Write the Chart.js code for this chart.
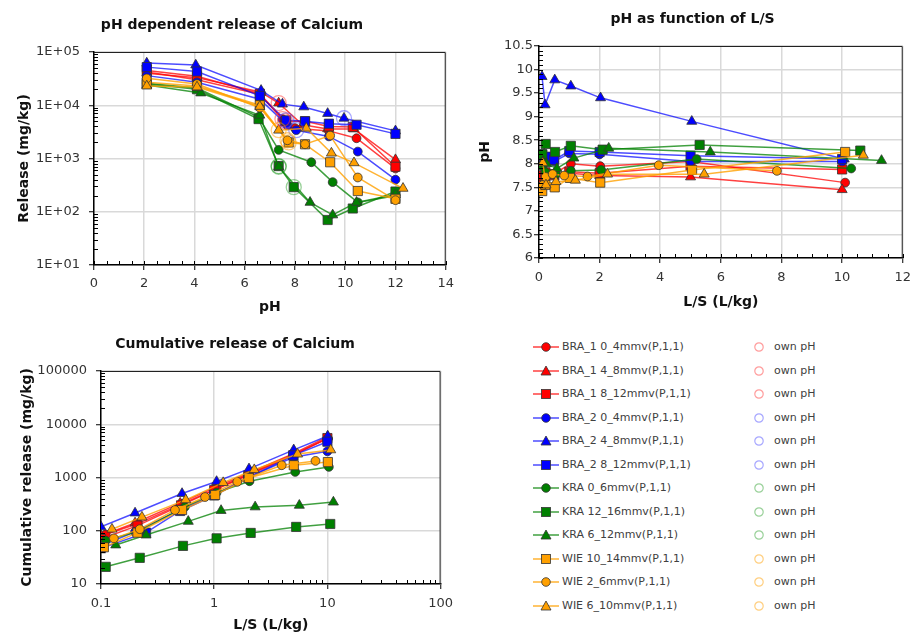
<!DOCTYPE html>
<html>
<head>
<meta charset="utf-8">
<script src="https://cdn.jsdelivr.net/npm/chart.js@4.4.1/dist/chart.umd.min.js"></script>
<style>
  body { margin: 0; background: #fff; width: 918px; height: 637px; position: relative; overflow: hidden; font-family: "DejaVu Sans", sans-serif; }
  canvas { position: absolute; }
  .lg-row { position: absolute; height: 14px; line-height: 14px; font-size: 11px; color: #404040; white-space: nowrap; }
  .lg-row svg { position: absolute; top: 0; }
</style>
</head>
<body>
<canvas id="phdep" width="460" height="320" style="left:0;top:0"></canvas>
<canvas id="phls" width="458" height="320" style="left:460px;top:0"></canvas>
<canvas id="cumul" width="460" height="317" style="left:0;top:320px"></canvas>
<div id="legend"></div>
<script>
/* Calcium leaching: pH dependence, pH vs L/S, cumulative release */

const seriesNames = [
  'BRA_1 0_4mmv(P,1,1)', 'BRA_1 4_8mmv(P,1,1)', 'BRA_1 8_12mmv(P,1,1)',
  'BRA_2 0_4mmv(P,1,1)', 'BRA_2 4_8mmv(P,1,1)', 'BRA_2 8_12mmv(P,1,1)',
  'KRA 0_6mmv(P,1,1)', 'KRA 12_16mmv(P,1,1)', 'KRA 6_12mmv(P,1,1)',
  'WIE 10_14mmv(P,1,1)', 'WIE 2_6mmv(P,1,1)', 'WIE 6_10mmv(P,1,1)'
];

// pH dependent test: pH and release (mg/kg)
const phdepX = [
  [2.1, 4.1, 6.6, 7.5, 8.0, 9.35, 10.45, 12.0],
  [2.1, 4.1, 6.65, 7.35, 8.3, 9.3, 10.35, 12.0],
  [2.1, 4.1, 6.6, 7.6, 8.4, 9.35, 10.3, 12.0],
  [2.1, 4.1, 6.6, 7.7, 8.05, 9.35, 10.5, 12.0],
  [2.1, 4.05, 6.65, 7.5, 8.35, 9.3, 9.95, 12.0],
  [2.1, 4.1, 6.6, 7.65, 8.4, 9.35, 10.45, 12.0],
  [2.1, 4.1, 6.55, 7.35, 8.65, 9.5, 10.5, 12.0],
  [2.1, 4.1, 6.55, 7.35, 7.95, 9.3, 10.3, 12.0],
  [2.1, 4.25, 6.6, 7.35, 8.6, 9.5, 10.45, 12.0],
  [2.1, 4.1, 6.6, 7.75, 8.4, 9.4, 10.5, 12.0],
  [2.1, 4.1, 6.6, 7.7, 8.4, 9.4, 10.5, 12.0],
  [2.1, 4.1, 6.6, 7.35, 8.45, 9.45, 10.35, 12.3]
];
const phdepY = [
  [42000, 30000, 16000, 5500, 3700, 3300, 2400, 650],
  [40000, 33000, 17500, 11000, 4300, 3600, 3600, 950],
  [45000, 35000, 16500, 5000, 5000, 4000, 3900, 700],
  [36000, 27000, 13000, 4200, 3400, 2600, 1350, 400],
  [62000, 57000, 19000, 10500, 9300, 7000, 5700, 3300],
  [52000, 43000, 15000, 5200, 5000, 4500, 4300, 2900],
  [26000, 21000, 6000, 1450, 850, 360, 150, 200],
  [25000, 20000, 5500, 720, 290, 70, 115, 240],
  [24000, 17000, 6500, 700, 150, 87, 150, 210],
  [27000, 23000, 10000, 2000, 1850, 850, 245, 175],
  [32000, 25000, 9000, 2200, 1850, 2700, 440, 165],
  [23000, 22000, 9500, 3400, 3700, 1260, 830, 275]
];
// own (natural) pH of each material
const ownX = [7.5, 7.35, 7.6, 8.05, 9.95, 7.65, 7.35, 7.95, 7.35, 7.75, 7.7, 7.35];
const ownY = [5500, 11000, 5000, 3400, 5700, 5200, 720, 290, 700, 2000, 2200, 3400];

// percolation test: cumulative L/S, eluate pH, cumulative release (mg/kg)
const lsX = [
  [0.11, 0.21, 0.52, 1.05, 2.02, 5.0, 10.1],
  [0.1, 0.2, 0.5, 1.0, 2.0, 5.0, 10.0],
  [0.1, 0.21, 0.51, 1.0, 2.0, 5.0, 10.0],
  [0.1, 0.2, 0.5, 1.0, 2.0, 5.0, 10.0],
  [0.1, 0.2, 0.52, 1.05, 2.03, 5.04, 10.07],
  [0.1, 0.25, 0.5, 1.0, 2.0, 5.0, 10.0],
  [0.11, 0.22, 0.55, 1.05, 2.05, 5.2, 10.3],
  [0.11, 0.22, 0.53, 1.05, 2.1, 5.3, 10.6],
  [0.135, 0.25, 0.59, 1.15, 2.3, 5.65, 11.3],
  [0.106, 0.21, 0.52, 1.02, 2.02, 5.05, 10.1],
  [0.13, 0.22, 0.45, 0.83, 1.6, 3.95, 7.85],
  [0.125, 0.23, 0.56, 1.2, 2.26, 5.45, 10.7]
];
const lsPH = [
  [7.72, 7.75, 7.8, 8.0, 7.95, 8.05, 7.6],
  [7.65, 7.7, 7.72, 7.8, 7.75, 7.72, 7.45],
  [7.75, 7.82, 7.78, 7.83, 7.8, 7.95, 7.88],
  [8.0, 8.1, 8.05, 8.22, 8.2, 8.05, 8.05],
  [9.85, 9.25, 9.78, 9.65, 9.4, 8.9, 8.1],
  [8.2, 8.15, 8.08, 8.27, 8.25, 8.17, 8.1],
  [7.95, 7.82, 7.78, 7.85, 7.87, 8.1, 7.9],
  [8.2, 8.42, 8.25, 8.38, 8.3, 8.4, 8.28],
  [8.05, 8.0, 7.9, 8.12, 8.33, 8.25, 8.07],
  [7.42, 7.55, 7.5, 7.7, 7.6, 7.87, 8.25],
  [7.55, 7.72, 7.78, 7.75, 7.73, 7.97, 7.85],
  [8.02, 7.55, 7.62, 7.65, 7.78, 7.78, 8.18]
];
const cumY = [
  [85, 135, 320, 620, 1150, 2700, 5400],
  [80, 140, 330, 640, 1200, 2800, 5800],
  [70, 125, 300, 580, 1100, 2600, 5500],
  [52, 95, 250, 470, 1000, 2400, 3100],
  [118, 215, 500, 840, 1450, 3300, 6000],
  [47, 92, 235, 460, 1000, 2600, 4700],
  [65, 100, 280, 520, 850, 1270, 1580],
  [21, 31, 52, 72, 91, 118, 134],
  [54, 83, 150, 240, 280, 300, 345],
  [49, 92, 245, 470, 980, 1700, 1950],
  [72, 107, 245, 430, 830, 1700, 2050],
  [107, 180, 380, 800, 1400, 2750, 3300]
];

// styling per material group
const groupFill = { BRA_1: '#ff0000', BRA_2: '#0000ff', KRA: '#008000', WIE: '#ffa000' };
const groupLine = { BRA_1: 'rgba(255,0,0,0.75)', BRA_2: 'rgba(0,0,255,0.7)', KRA: 'rgba(0,128,0,0.75)', WIE: 'rgba(255,160,0,0.8)' };
const groupRing = { BRA_1: 'rgba(255,60,60,0.5)', BRA_2: 'rgba(60,60,255,0.45)', KRA: 'rgba(0,140,0,0.4)', WIE: 'rgba(255,160,0,0.5)' };
const groups = seriesNames.map(n => n.split(' ')[0]);
const shapes = ['circle', 'triangle', 'rect', 'circle', 'triangle', 'rect', 'circle', 'rect', 'triangle', 'rect', 'circle', 'triangle'];
const shapeRadius = { circle: 4.4, triangle: 5.8, rect: 6.5 };

const FONT = '"DejaVu Sans", sans-serif';
const tickFont = { family: FONT, size: 13 };
const titleFont = { family: FONT, size: 14, weight: 'bold' };

function isPow10(v) {
  const l = Math.log10(v);
  return Math.abs(l - Math.round(l)) < 1e-6;
}

function seriesSets(xs, ys) {
  return seriesNames.map((name, i) => ({
    label: name,
    data: xs[i].map((x, j) => ({ x: x, y: ys[i][j] })),
    showLine: true,
    borderColor: groupLine[groups[i]],
    borderWidth: 1.5,
    pointStyle: shapes[i],
    pointRadius: shapeRadius[shapes[i]],
    pointBackgroundColor: groupFill[groups[i]],
    pointBorderColor: '#333',
    pointBorderWidth: 0.8,
    order: seriesNames.length - i + 1
  }));
}

// frame, inner minor ticks and chart heading
const panelDecor = {
  id: 'panelDecor',
  afterDraw(chart, args, opts) {
    const ctx = chart.ctx, a = chart.chartArea;
    ctx.save();
    ctx.strokeStyle = '#222';
    ctx.lineWidth = 1;
    ctx.beginPath();
    ctx.moveTo(a.left, a.top + 0.5);
    ctx.lineTo(a.right - 0.5, a.top + 0.5);
    ctx.lineTo(a.right - 0.5, a.bottom);
    ctx.stroke();

    ctx.strokeStyle = '#000';
    ['x', 'y'].forEach(id => {
      const sc = chart.scales[id];
      const vals = [];
      if (sc.type === 'logarithmic') {
        const d0 = Math.floor(Math.log10(sc.min)), d1 = Math.ceil(Math.log10(sc.max));
        for (let d = d0; d < d1; d++) {
          for (let k = 2; k <= 9; k++) vals.push(k * Math.pow(10, d));
        }
      } else {
        const step = opts.minor[id];
        const n = Math.round((sc.max - sc.min) / step);
        for (let k = 0; k <= n; k++) vals.push(sc.min + k * step);
      }
      ctx.beginPath();
      vals.forEach(v => {
        const p = Math.round(sc.getPixelForValue(v)) + 0.5;
        if (id === 'x') { ctx.moveTo(p, a.bottom); ctx.lineTo(p, a.bottom - 4); }
        else { ctx.moveTo(a.left, p); ctx.lineTo(a.left + 4, p); }
      });
      ctx.stroke();
    });

    ctx.fillStyle = '#111';
    ctx.font = 'bold 14px ' + FONT;
    ctx.textAlign = 'center';
    ctx.textBaseline = 'middle';
    ctx.fillText(opts.title, opts.tx, opts.ty);
    ctx.restore();
  }
};

function axis(opts) {
  return {
    type: opts.type,
    min: opts.min,
    max: opts.max,
    border: { color: '#000', width: 1.5 },
    grid: {
      color: '#d9d9d9',
      lineWidth: 1.5,
      tickColor: '#000',
      tickLength: 5,
      tickWidth: 1
    },
    ticks: Object.assign({
      font: tickFont,
      color: '#333',
      autoSkip: false,
      maxRotation: 0,
      padding: opts.pad
    }, opts.ticks),
    title: {
      display: true,
      text: opts.title,
      font: titleFont,
      color: '#111',
      padding: opts.titlePad
    }
  };
}

function makeChart(id, box, datasets, scales, decor) {
  const cv = document.getElementById(id);
  const W = cv.width, H = cv.height;
  scales.x.afterFit = s => { s.height = H - box.bottom; };
  scales.y.afterFit = s => { s.width = box.left; };
  return new Chart(cv, {
    type: 'scatter',
    data: { datasets: datasets },
    options: {
      responsive: false,
      animation: false,
      layout: { padding: { top: box.top, right: W - box.right, left: 0, bottom: 0 } },
      plugins: { legend: { display: false }, tooltip: { enabled: false }, panelDecor: decor },
      scales: scales
    },
    plugins: [panelDecor]
  });
}

// pH dependent release of Calcium
const ownSet = {
  label: 'own pH',
  data: ownX.map((x, i) => ({ x: x, y: ownY[i] })),
  pointStyle: 'circle',
  pointRadius: 7.5,
  pointBackgroundColor: 'rgba(0,0,0,0)',
  pointBorderColor: groups.map(g => groupRing[g]),
  pointBorderWidth: 1.3,
  showLine: false,
  order: 0
};
makeChart('phdep', { left: 94, top: 52, right: 446, bottom: 265 },
  seriesSets(phdepX, phdepY).concat([ownSet]),
  {
    x: axis({ type: 'linear', min: 0, max: 14, pad: 6, title: 'pH', titlePad: { top: 0, bottom: 4.6 },
      ticks: { stepSize: 2 } }),
    y: axis({ type: 'logarithmic', min: 10, max: 100000, pad: 9, title: 'Release (mg/kg)', titlePad: { top: 16, bottom: 0 },
      ticks: { callback: v => isPow10(v) ? '1E+0' + Math.round(Math.log10(v)) : null } })
  },
  { title: 'pH dependent release of Calcium', tx: 232, ty: 25, minor: { x: 0.5 } });

// pH as function of L/S
makeChart('phls', { left: 79, top: 46, right: 446, bottom: 258 },
  seriesSets(lsX, lsPH),
  {
    x: axis({ type: 'linear', min: 0, max: 12, pad: 7, title: 'L/S (L/kg)', titlePad: { top: 0, bottom: 9.6 },
      ticks: { stepSize: 2 } }),
    y: axis({ type: 'linear', min: 6, max: 10.5, pad: 1, title: 'pH', titlePad: { top: 16.6, bottom: 0 },
      ticks: { stepSize: 0.5, callback: v => String(Number(v.toFixed(1))) } })
  },
  { title: 'pH as function of L/S', tx: 232.5, ty: 19, minor: { x: 0.5, y: 0.1 } });

// Cumulative release of Calcium
makeChart('cumul', { left: 101, top: 51, right: 443, bottom: 264 },
  seriesSets(lsX, cumY),
  {
    x: axis({ type: 'logarithmic', min: 0.1, max: 100, pad: 7, title: 'L/S (L/kg)', titlePad: { top: 0, bottom: 3.6 },
      ticks: { callback: v => isPow10(v) ? String(Number(v.toPrecision(6))) : null } }),
    y: axis({ type: 'logarithmic', min: 10, max: 100000, pad: 9, title: 'Cumulative release (mg/kg)', titlePad: { top: 18.6, bottom: 0 },
      ticks: { callback: v => isPow10(v) ? String(Math.round(v)) : null } })
  },
  { title: 'Cumulative release of Calcium', tx: 235, ty: 24, minor: {} });

// legend: one row per material plus its own-pH ring
function markerSvg(i) {
  const f = groupFill[groups[i]], ln = groupLine[groups[i]];
  let m;
  if (shapes[i] === 'circle') m = `<circle cx="14" cy="7" r="4.3" fill="${f}" stroke="#333" stroke-width="0.8"/>`;
  else if (shapes[i] === 'rect') m = `<rect x="9.5" y="2.5" width="9" height="9" fill="${f}" stroke="#333" stroke-width="0.8"/>`;
  else m = `<polygon points="14,2 19,11 9,11" fill="${f}" stroke="#333" stroke-width="0.8"/>`;
  return `<svg width="28" height="14" style="left:0"><line x1="1" y1="7" x2="27" y2="7" stroke="${ln}" stroke-width="1.5"/>${m}</svg>`;
}
const legend = document.getElementById('legend');
seriesNames.forEach((name, i) => {
  const yc = 347.3 + i * 23.5;
  const row = document.createElement('div');
  row.className = 'lg-row';
  row.style.left = '532px';
  row.style.top = (yc - 7) + 'px';
  row.innerHTML = markerSvg(i) + `<span style="position:absolute;left:30px">${name}</span>` +
    `<svg width="12" height="14" style="left:221px"><circle cx="6" cy="7" r="4.2" fill="none" stroke="${groupRing[groups[i]]}" stroke-width="1.2"/></svg>` +
    `<span style="position:absolute;left:242px">own pH</span>`;
  legend.appendChild(row);
});
</script>
</body>
</html>
